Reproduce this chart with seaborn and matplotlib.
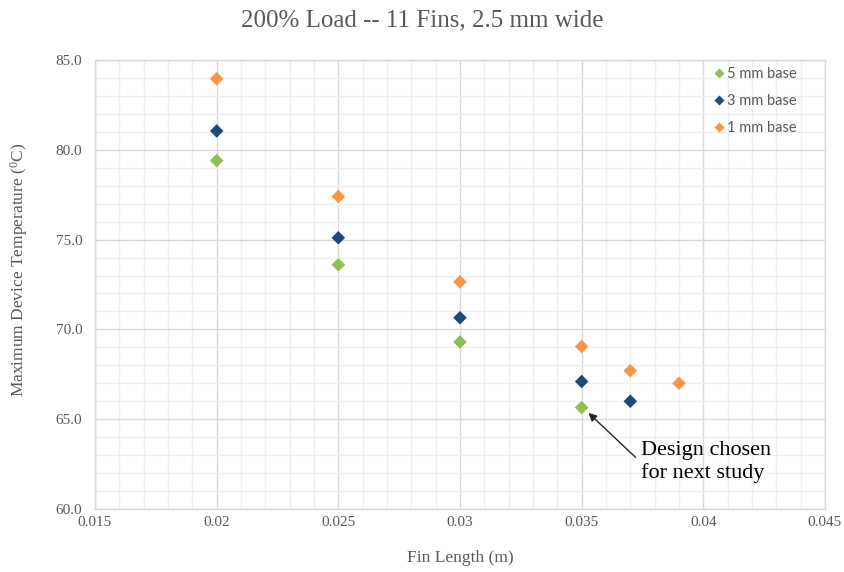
import matplotlib
matplotlib.use("Agg")
import matplotlib.pyplot as plt
from matplotlib.ticker import MultipleLocator, FormatStrFormatter, FuncFormatter
import seaborn as sns
import pandas as pd

# ---- data ----
x_5mm = [0.020, 0.025, 0.030, 0.035]
y_5mm = [79.4, 73.6, 69.3, 65.65]
x_3mm = [0.020, 0.025, 0.030, 0.035, 0.037]
y_3mm = [81.05, 75.1, 70.65, 67.1, 66.0]
x_1mm = [0.020, 0.025, 0.030, 0.035, 0.037, 0.039]
y_1mm = [83.95, 77.4, 72.65, 69.05, 67.7, 67.0]
series_names = ["5 mm base", "3 mm base", "1 mm base"]
title = "200% Load -- 11 Fins, 2.5 mm wide"
xlabel = "Fin Length (m)"
ylabel = r"Maximum Device Temperature ($\mathrm{^{0}}$C)"
annot_text = "Design chosen\nfor next study"

df = pd.concat([
    pd.DataFrame({"x": x_5mm, "y": y_5mm, "series": series_names[0]}),
    pd.DataFrame({"x": x_3mm, "y": y_3mm, "series": series_names[1]}),
    pd.DataFrame({"x": x_1mm, "y": y_1mm, "series": series_names[2]}),
], ignore_index=True)

sns.set_theme(style="white")
plt.rcParams["font.family"] = ["Liberation Serif", "DejaVu Serif"]
plt.rcParams["mathtext.fontset"] = "custom"
plt.rcParams["mathtext.rm"] = "Liberation Serif"

palette = {"5 mm base": "#93BD55", "3 mm base": "#1F497D", "1 mm base": "#F79646"}
text_grey = "#595959"

fig = plt.figure(figsize=(8.45, 5.72), dpi=100)
ax = fig.add_axes([95/845, 1-509/572, 730/845, 449/572])

sns.scatterplot(data=df, x="x", y="y", hue="series", hue_order=series_names,
                palette=palette, marker="D", s=48, edgecolor="none",
                ax=ax, zorder=3)

ax.set_xlim(0.015, 0.045)
ax.set_ylim(60, 85)
ax.xaxis.set_major_locator(MultipleLocator(0.005))
ax.xaxis.set_minor_locator(MultipleLocator(0.001))
ax.yaxis.set_major_locator(MultipleLocator(5))
ax.yaxis.set_minor_locator(MultipleLocator(1))
ax.xaxis.set_major_formatter(FuncFormatter(lambda v, p: ("%.3f" % v).rstrip("0")))
ax.yaxis.set_major_formatter(FormatStrFormatter("%.1f"))
ax.grid(which="major", color="#D9D9D9", linewidth=1.0)
ax.grid(which="minor", color="#EFEFEF", linewidth=1.0)
ax.set_axisbelow(True)
for sp in ax.spines.values():
    sp.set_color("#D9D9D9")
    sp.set_linewidth(1.0)
ax.tick_params(which="both", length=0, labelsize=11, colors=text_grey)
ax.tick_params(axis="x", pad=5)
ax.tick_params(axis="y", pad=9)

ax.set_xlabel(xlabel, fontsize=12.5, color=text_grey, labelpad=15)
ax.set_ylabel(ylabel, fontsize=12.5, color=text_grey)
ax.yaxis.set_label_coords((30 - 95) / 730, (509 - 270) / 449)
fig.suptitle(title, x=0.5, y=1-20/572, va="center",
             fontsize=18, color=text_grey)

leg = ax.legend(loc="upper right", bbox_to_anchor=(0.975, 1.008), frameon=False,
                prop={"family": "Lato", "size": 10.5}, labelspacing=0.92,
                handlelength=0.6, handletextpad=0.25, borderaxespad=0.3,
                markerscale=0.8)
for t in leg.get_texts():
    t.set_color(text_grey)

ax.annotate(annot_text, xy=(0.03528, 65.35), xytext=(0.03743, 62.6),
            ha="left", va="center", fontsize=16, color="black",
            linespacing=1.2,
            arrowprops=dict(arrowstyle="-|>", color="#262626", lw=1.0,
                            shrinkA=2, shrinkB=0, mutation_scale=12,
                            relpos=(0.0, 0.5)))

fig.savefig("out.png", dpi=100)
